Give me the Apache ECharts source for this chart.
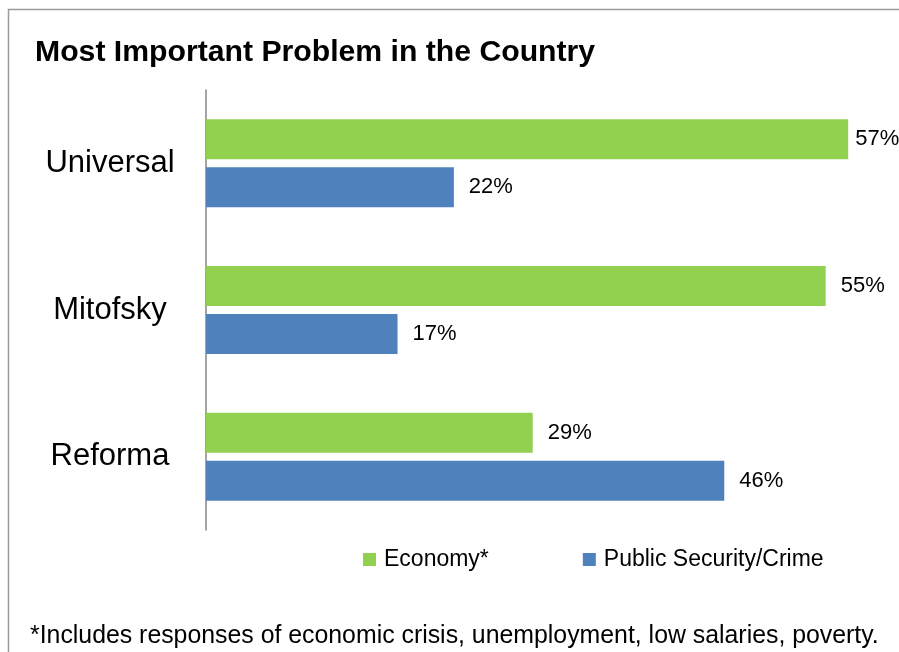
<!DOCTYPE html>
<html>
<head>
<meta charset="utf-8">
<script src="https://cdn.jsdelivr.net/npm/echarts@6/dist/echarts.min.js"></script>
<style>
html,body{margin:0;padding:0;background:#fff;}
#chart{width:899px;height:652px;}
</style>
</head>
<body>
<div id="chart"></div>
<script>
var categories = ['Universal', 'Mitofsky', 'Reforma'];
var economy = [57, 55, 29];
var security = [22, 17, 46];
var seriesNames = ['Economy*', 'Public Security/Crime'];
var titleText = 'Most Important Problem in the Country';
var footnote = '*Includes responses of economic crisis, unemployment, low salaries, poverty.';

var FONT = '"Liberation Sans", Arial, sans-serif';
var labelStyle = { show: true, position: 'right', distance: 15, formatter: '{c}%', fontFamily: FONT, fontSize: 22, color: '#000' };

function toData(arr) {
  return arr.map(function (v) {
    // the largest value sits near the right edge: label pulled closer to the bar
    return v >= 57 ? { value: v, label: { distance: 7 } } : v;
  });
}

var chart = echarts.init(document.getElementById('chart'));
chart.setOption({
  animation: false,
  backgroundColor: '#fff',
  textStyle: { fontFamily: FONT },
  title: {
    text: titleText,
    left: 30, top: 33,
    textStyle: { fontFamily: FONT, fontSize: 30.2, fontWeight: 'bold', color: '#000' }
  },
  graphic: [
    { type: 'polyline', shape: { points: [[8.5, 652], [8.5, 9.5], [899, 9.5]] },
      style: { stroke: '#9a9a9a', lineWidth: 1.5, fill: null } },
    { type: 'text', left: 30, top: 624,
      style: { text: footnote, fontFamily: FONT, fontSize: 24.85, fill: '#000' } }
  ],
  legend: {
    left: 358, top: 543,
    itemWidth: 13, itemHeight: 13, itemGap: 94,
    icon: 'rect',
    textStyle: { fontFamily: FONT, fontSize: 23, color: '#000', padding: [0, 0, 0, 3] },
    data: seriesNames
  },
  grid: { left: 206, width: 676, top: 90, height: 440 },
  xAxis: {
    type: 'value', min: 0, max: 60, show: false
  },
  yAxis: {
    type: 'category', data: categories, inverse: true,
    axisLine: { lineStyle: { color: '#868686', width: 1.5 } },
    axisTick: { show: false },
    axisLabel: { fontFamily: FONT, fontSize: 31, color: '#000', align: 'center', margin: 96 }
  },
  series: [
    { name: seriesNames[0], type: 'bar', data: toData(economy), barGap: '20%', barCategoryGap: '40%',
      itemStyle: { color: '#92D050' }, label: labelStyle },
    { name: seriesNames[1], type: 'bar', data: toData(security), barGap: '20%', barCategoryGap: '40%',
      itemStyle: { color: '#4F81BD' }, label: labelStyle }
  ]
});
</script>
</body>
</html>
